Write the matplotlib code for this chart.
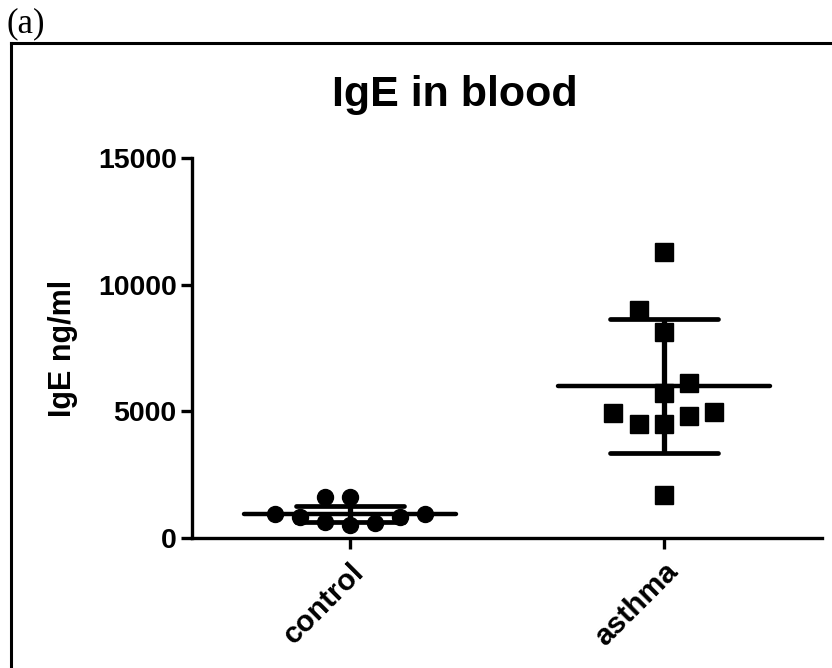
import matplotlib
matplotlib.use("Agg")
import matplotlib.pyplot as plt
from matplotlib.lines import Line2D
import numpy as np

# ---- data ----
categories = ["control", "asthma"]
control_values = [1606, 1606, 947, 817, 645, 513, 580, 817, 947]
asthma_values = [11300, 9000, 8120, 6107, 5713, 4923, 4489, 4489, 4828, 4986, 1698]
group_means = [950, 6000]
group_sds = [320, 2630]
yticks = [0, 5000, 10000, 15000]
title = "IgE in blood"
ylabel = "IgE ng/ml"
panel_label = "(a)"

# layout (swarm slot of each point, in marker widths)
control_slots = [-1, 0, -3, -2, -1, 0, 1, 2, 3]
asthma_slots = [0, -1, 0, 1, 0, -2, -1, 0, 1, 2, 0]

W, H = 832, 668
fig = plt.figure(figsize=(W / 100, H / 100), dpi=100)
font = "Liberation Sans"

ax = fig.add_axes([192 / W, 1 - 538 / H, (822 - 192) / W, (538 - 158) / H])
ax.set_xlim(-0.504, 1.505)
ax.set_ylim(0, 15000)

step = 0.08
xc = np.array(control_slots) * step + 0
xa = np.array(asthma_slots) * step + 1
ax.plot(xc, control_values, "o", color="black", markersize=11.5, zorder=3, clip_on=False)
ax.plot(xa, asthma_values, "s", color="black", markersize=12.5, zorder=3, clip_on=False)

mean_half = 0.338
cap_half = 0.172
for i, (m, s) in enumerate(zip(group_means, group_sds)):
    ax.plot([i - mean_half, i + mean_half], [m, m], color="black", lw=3.2,
            solid_capstyle="round", zorder=4)
    ax.plot([i, i], [m - s, m + s], color="black", lw=3.8, solid_capstyle="butt", zorder=4)
    for v in (m - s, m + s):
        ax.plot([i - cap_half, i + cap_half], [v, v], color="black", lw=3.4,
                solid_capstyle="round", zorder=4)

for sp in ["top", "right"]:
    ax.spines[sp].set_visible(False)
for sp in ["left", "bottom"]:
    ax.spines[sp].set_linewidth(2.4)

ax.set_yticks(yticks)
ax.set_yticklabels([str(t) for t in yticks], fontsize=20.5, fontweight="bold", family=font)
ax.set_xticks(range(len(categories)))
ax.set_xticklabels(categories, fontsize=21.5, fontweight="bold", family=font,
                   rotation=45, ha="right", va="top", rotation_mode="anchor")
ax.tick_params(axis="y", direction="out", length=8, width=2.4, pad=3)
ax.tick_params(axis="x", direction="out", length=8, width=2.4, pad=6)

ax.set_ylabel(ylabel, fontsize=22, fontweight="bold", family=font, labelpad=14)

fig.text(455 / W, 1 - 95 / H, title, fontsize=31, fontweight="bold", family=font,
         ha="center", va="center")
fig.text(7 / W, 1 - 24 / H, panel_label, fontsize=25, family="Liberation Serif",
         ha="left", va="center")

# panel frame (left and top borders)
fig.add_artist(Line2D([11 / W, 11 / W], [0, 1 - 43 / H], transform=fig.transFigure,
                      color="black", lw=2.2))
fig.add_artist(Line2D([11 / W, 1], [1 - 43 / H, 1 - 43 / H], transform=fig.transFigure,
                      color="black", lw=2.2))

fig.savefig("out.png", dpi=100)
